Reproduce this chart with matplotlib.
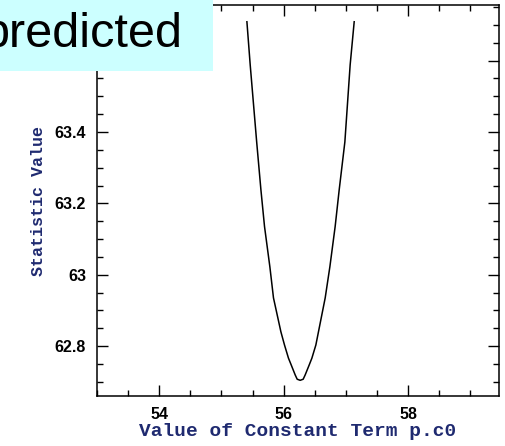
import numpy as np
import matplotlib
matplotlib.use("Agg")
import matplotlib.pyplot as plt
from matplotlib.patches import Rectangle
from matplotlib.ticker import MultipleLocator

# curve: value of p.c0 vs statistic
c0_vals = [55.409, 55.462, 55.566, 55.634, 55.692, 55.778, 55.836, 55.955,
           56.013, 56.077, 56.121, 56.185, 56.217, 56.265, 56.313, 56.345,
           56.410, 56.453, 56.517, 56.559, 56.667, 56.742, 56.827, 56.892,
           56.983, 57.068, 57.133]
stat_vals = [63.709, 63.588, 63.372, 63.238, 63.135, 63.022, 62.935, 62.840,
             62.803, 62.766, 62.747, 62.719, 62.707, 62.704, 62.707, 62.719,
             62.747, 62.766, 62.803, 62.840, 62.935, 63.022, 63.135, 63.238,
             63.372, 63.588, 63.709]

x_ticks = [54, 56, 58]
y_ticks = [62.8, 63.0, 63.2, 63.4, 63.6]
# the 63.6 label sits under the banner, so it's left blank
y_tick_labels = ["62.8", "63", "63.2", "63.4", ""]
x_label = "Value of Constant Term p.c0"
y_label = "Statistic Value"
banner_text = "predicted"

navy = "#1f2a70"
mono = ["Liberation Mono", "DejaVu Sans Mono"]
sans = ["Liberation Sans", "DejaVu Sans"]

fig = plt.figure(figsize=(5.06, 4.46), dpi=100)
ax = fig.add_axes([97 / 506, 50 / 446, 402 / 506, 391 / 446])

ax.plot(c0_vals, stat_vals, color="black", linewidth=1.1)

ax.set_xlim(53.0, 59.46)
ax.set_ylim(62.66, 63.756)
ax.set_xticks(x_ticks)
ax.set_yticks(y_ticks)
ax.set_yticklabels(y_tick_labels)
ax.xaxis.set_minor_locator(MultipleLocator(0.5))
ax.yaxis.set_minor_locator(MultipleLocator(0.05))

ax.tick_params(which="both", direction="in", top=True, right=True, width=1.0, color="black")
ax.tick_params(which="major", length=8, pad=8)
ax.tick_params(which="minor", length=4)
for lab in ax.get_xticklabels() + ax.get_yticklabels():
    lab.set_family(sans)
    lab.set_fontweight("bold")
    lab.set_fontsize(11.5)
for s in ax.spines.values():
    s.set_linewidth(1.1)

ax.set_xlabel(x_label, family=mono, fontweight="bold", fontsize=14, color=navy, labelpad=1)
ax.set_ylabel(y_label, family=mono, fontweight="bold", fontsize=12, color=navy, labelpad=6)

# the slide banner laid over the top left corner
fig.patches.append(Rectangle((0, (446 - 70.7) / 446), 213 / 506, 70.7 / 446,
                             transform=fig.transFigure, facecolor="#ccffff",
                             edgecolor="none", zorder=5))
fig.text(183 / 506, (446 - 46.7) / 446, banner_text, ha="right", va="baseline",
         fontsize=35, family=sans, color="black", zorder=6)

fig.savefig("out.png", dpi=100)
